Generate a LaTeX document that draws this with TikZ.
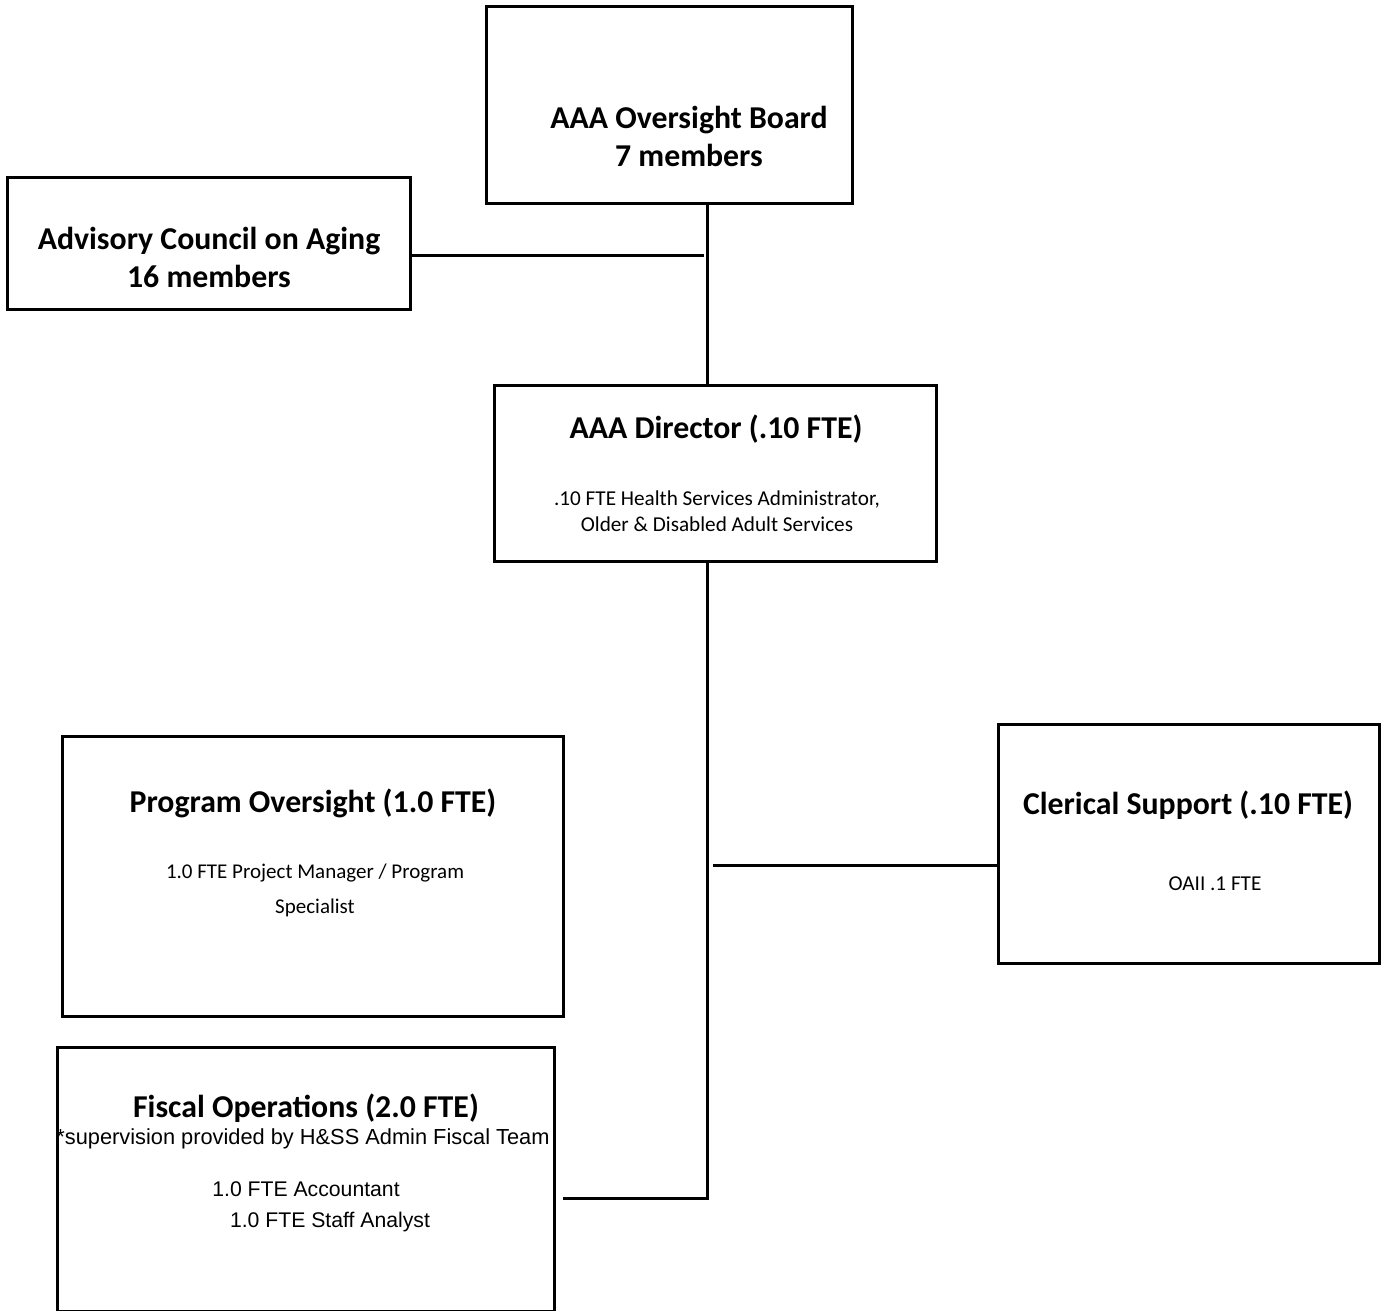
\documentclass[tikz,border=0pt]{standalone}
\usepackage{fontspec}
\setmainfont{Carlito}
\newfontfamily\arialfont{Liberation Sans}

\tikzstyle{box}=[draw,line width=3pt,rectangle,inner sep=0pt]
\tikzstyle{title}=[inner sep=0pt,align=center,font=\fontsize{31.8}{38}\selectfont\bfseries]
\tikzstyle{sub}=[inner sep=0pt,align=center,font=\fontsize{21.2}{26}\selectfont]
\tikzstyle{note}=[inner sep=0pt,align=center,font=\arialfont\fontsize{21.2}{25}\selectfont]
\tikzstyle{link} = [draw,line width=3pt,-]

\begin{document}
\begin{tikzpicture}[x=1pt, y=-1pt]
			\useasboundingbox (0,0) rectangle (1383,1310);
			% boxes
			\node [box, minimum width=366pt, minimum height=197pt] (board) at (669,104.5) {};
			\node [box, minimum width=403pt, minimum height=132pt] (adv)   at (208.5,243) {};
			\node [box, minimum width=442pt, minimum height=176pt] (dir)   at (715,473) {};
			\node [box, minimum width=501pt, minimum height=280pt] (prog)  at (312.5,876) {};
			\node [box, minimum width=381pt, minimum height=239pt] (cler)  at (1188.5,843.5) {};
			\node [box, minimum width=497pt, minimum height=264pt] (fisc)  at (305.5,1179) {};

			% texts
			\node [title] (boardtxt) at (689,136) {AAA Oversight Board\\7 members};
			\node [title] (advtxt)   at (209,257) {Advisory Council on Aging\\16 members};
			\node [title] (dirtxt)   at (716,429) {AAA Director (.10 FTE)};
			\node [sub]   (dirsub)   at (717,511) {.10 FTE Health Services Administrator,\\Older \& Disabled Adult Services};
			\node [title] (progtxt)  at (313,803) {Program Oversight (1.0 FTE)};
			\node [sub, font=\fontsize{21}{35}\selectfont] (progsub) at (315,890) {1.0 FTE Project Manager / Program\\Specialist};
			\node [title] (clertxt)  at (1188,805) {Clerical Support (.10 FTE)};
			\node [sub]   (clersub)  at (1215,884) {OAII .1 FTE};
			\node [title] (fisctxt)  at (306,1108) {Fiscal Operations (2.0 FTE)};
			\node [note, font=\arialfont\fontsize{21.8}{25}\selectfont] (fiscnote) at (303,1139) {*supervision provided by H\&SS Admin Fiscal Team};
			\node [note]  (fiscacc)  at (306,1189) {1.0 FTE Accountant};
			\node [note]  (fiscana)  at (330,1222) {1.0 FTE Staff Analyst};

			\coordinate (advend)  at (704,255);
			\coordinate (trunk)   at (707,1198);
			\coordinate (fiscend) at (563,1198);
			\coordinate (clerbeg) at (713,865);

			\draw [link] ([xshift=38pt]board.south) -- ([xshift=-8pt]dir.north);
			\draw [link] (adv.east |- advend) -- (advend);
			\draw [link] ([xshift=-8pt]dir.south) -- (trunk) -- (fiscend);
			\draw [link] (clerbeg) -- (clerbeg -| cler.west);
	\end{tikzpicture}
\end{document}
